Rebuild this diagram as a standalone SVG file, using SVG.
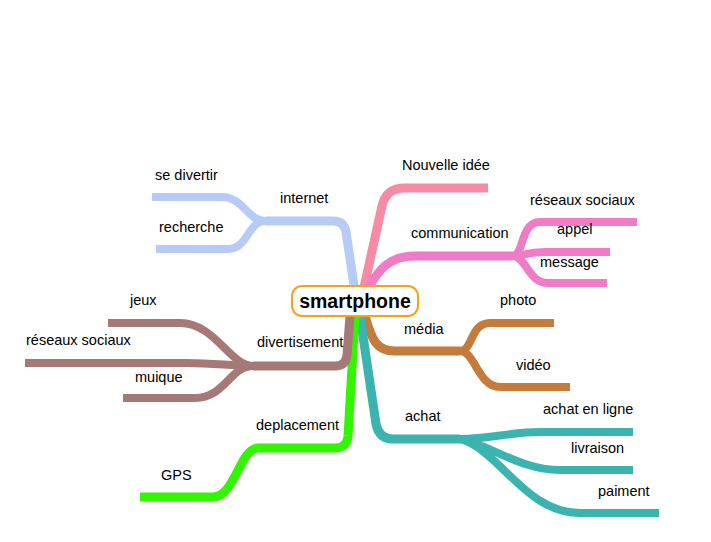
<svg xmlns="http://www.w3.org/2000/svg" width="711" height="542" viewBox="0 0 711 542">
<style>
.l{fill:none;stroke-width:9;stroke-linecap:butt;stroke-linejoin:round}
.s{fill:none;stroke-width:8;stroke-linecap:butt}
.t{font-family:"Liberation Sans",Arial,sans-serif;font-size:14.5px;fill:#000}
.b{stroke:#b7cbf7}.p{stroke:#f68ba5}.c{stroke:#f07bc6}.m{stroke:#c47b3b}.a{stroke:#3bb4b0}.g{stroke:#33f500}.d{stroke:#a57a76}
</style>
<rect width="711" height="542" fill="#fff"/>
<g id="connectors">
<path class="l b" d="M355 292 L346 232 Q344 221 333 221 L265 221"/>
<path class="s b" d="M265 221 C248 221 243 197 222 197 L152 197"/>
<path class="s b" d="M265 221 C248 221 248 249 228 249 L156 249"/>
<path class="l p" d="M363 292 L382 206 Q386 188 405 188 L488 188"/>
<path class="l c" d="M365 295 C378 268 390 256 415 256 L513 256"/>
<path class="s c" d="M513 256 C524 256 520 222 540 222 L637 222"/>
<path class="s c" d="M513 256 C525 256 525 252 545 252 L610 252"/>
<path class="s c" d="M513 256 C526 256 528 283 548 283 L607 283"/>
<path class="l m" d="M365 316 C372 340 376 351 395 351 L460 351"/>
<path class="s m" d="M460 351 C473 351 470 323 490 323 L554 323"/>
<path class="s m" d="M460 351 C475 351 478 387 500 387 L570 387"/>
<path class="l a" d="M360 316 L376 424 Q379 439 393 439 L460 439"/>
<path class="s a" d="M460 439 C490 439 510 432 540 432 L633 432"/>
<path class="s a" d="M460 439 C490 445 520 470 560 470 L633 470"/>
<path class="s a" d="M460 439 C500 450 525 513 580 513 L659 513"/>
<path class="l g" d="M355 316 L348 436 Q347 448 335 448 L258 448 C240 448 235 497 213 497 L140 497"/>
<path class="l d" d="M350 316 L347 355 Q346 366 335 366 L253 366"/>
<path class="s d" d="M253 366 C230 366 215 323 180 323 L108 323"/>
<path class="s d" d="M253 366 C230 366 215 363 187 363 L25 363"/>
<path class="s d" d="M253 366 C230 366 225 398 195 398 L123 398"/>
</g>
<g id="center">
<rect x="292" y="286" width="126" height="30" rx="10" fill="#fff" stroke="#f7a21b" stroke-width="2"/>
<text x="355" y="308" text-anchor="middle" style="font-family:'Liberation Sans',Arial,sans-serif;font-size:19.5px;font-weight:bold">smartphone</text>
</g>
<g id="internet"><text class="t" x="280" y="203">internet</text></g>
<g id="se-divertir"><text class="t" x="155" y="180">se divertir</text></g>
<g id="recherche"><text class="t" x="159" y="232">recherche</text></g>
<g id="nouvelle-idee"><text class="t" x="402" y="170">Nouvelle idée</text></g>
<g id="communication"><text class="t" x="411" y="238">communication</text></g>
<g id="reseaux-sociaux-1"><text class="t" x="530" y="205">réseaux sociaux</text></g>
<g id="appel"><text class="t" x="557" y="234">appel</text></g>
<g id="message"><text class="t" x="540" y="267">message</text></g>
<g id="media"><text class="t" x="404" y="334">média</text></g>
<g id="photo"><text class="t" x="500" y="305">photo</text></g>
<g id="video"><text class="t" x="516" y="370">vidéo</text></g>
<g id="achat"><text class="t" x="405" y="421">achat</text></g>
<g id="achat-en-ligne"><text class="t" x="543" y="414">achat en ligne</text></g>
<g id="livraison"><text class="t" x="571" y="453">livraison</text></g>
<g id="paiment"><text class="t" x="598" y="496">paiment</text></g>
<g id="deplacement"><text class="t" x="256" y="430">deplacement</text></g>
<g id="gps"><text class="t" x="161" y="480">GPS</text></g>
<g id="divertisement"><text class="t" x="257" y="347">divertisement</text></g>
<g id="jeux"><text class="t" x="130" y="305">jeux</text></g>
<g id="reseaux-sociaux-2"><text class="t" x="26" y="345">réseaux sociaux</text></g>
<g id="muique"><text class="t" x="135" y="382">muique</text></g>
</svg>
